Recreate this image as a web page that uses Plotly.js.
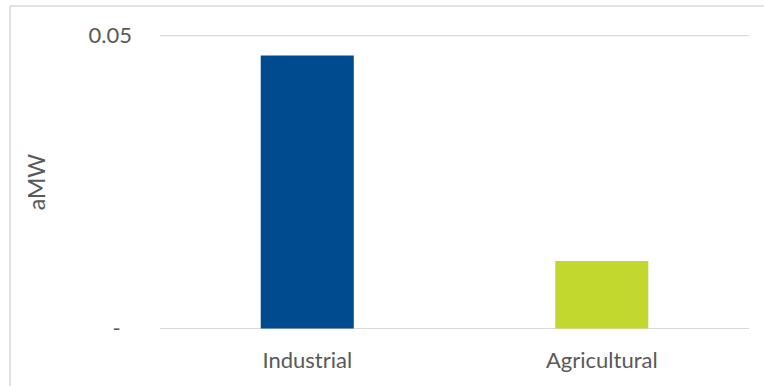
<!DOCTYPE html>
<html>
<head>
<meta charset="utf-8">
<script src="https://cdn.plot.ly/plotly-3.0.1.min.js"></script>
<style>html,body{margin:0;padding:0;background:#fff;}#chart{width:764px;height:386px;}</style>
</head>
<body>
<div id="chart"></div>
<script>
const categories = ["Industrial", "Agricultural"];
const values = [0.0466, 0.0115];
const barColors = ["#004A8F", "#C3D82F"];
const yTickVals = [0, 0.05];
const yTickText = ["-\u00a0\u00a0", "0.05"];

const trace = {
  type: "bar",
  x: categories,
  y: values,
  marker: {color: barColors},
  hoverinfo: "skip"
};

const gridShapes = yTickVals.filter(v => v !== 0).map(v => ({
  type: "line", xref: "paper", yref: "y",
  x0: 0, x1: 1, y0: v, y1: v,
  line: {color: "#d9d9d9", width: 1.3},
  layer: "below"
}));

const layout = {
  width: 764,
  height: 386,
  margin: {l: 160, r: 15, t: 35, b: 57},
  paper_bgcolor: "#ffffff",
  plot_bgcolor: "#ffffff",
  showlegend: false,
  bargap: 0.684,
  font: {family: "Lato, 'Open Sans', sans-serif", size: 22, color: "#595959"},
  xaxis: {
    type: "category",
    showgrid: false,
    zeroline: false,
    showline: false,
    ticks: "",
    ticklabelstandoff: 16,
    tickfont: {size: 22, color: "#595959"},
    fixedrange: true
  },
  yaxis: {
    range: [-0.0001, 0.0501],
    tickvals: yTickVals,
    ticktext: yTickText,
    showgrid: true,
    gridcolor: "#d9d9d9",
    gridwidth: 1.3,
    zeroline: true,
    zerolinecolor: "#d9d9d9",
    zerolinewidth: 1.5,
    showline: false,
    ticks: "",
    ticklabelstandoff: 27,
    tickfont: {size: 22, color: "#595959"},
    title: {text: "aMW", font: {size: 23, color: "#595959"}, standoff: 36},
    fixedrange: true
  },
  shapes: [{
    type: "rect", xref: "paper", yref: "paper",
    x0: -0.2547, x1: 1.2, y0: -0.5, y1: 1.0986,
    line: {color: "#d9d9d9", width: 1.5},
    fillcolor: "rgba(0,0,0,0)",
    layer: "below"
  }].concat(gridShapes)
};

Plotly.newPlot("chart", [trace], layout, {displayModeBar: false, staticPlot: true});
</script>
</body>
</html>
